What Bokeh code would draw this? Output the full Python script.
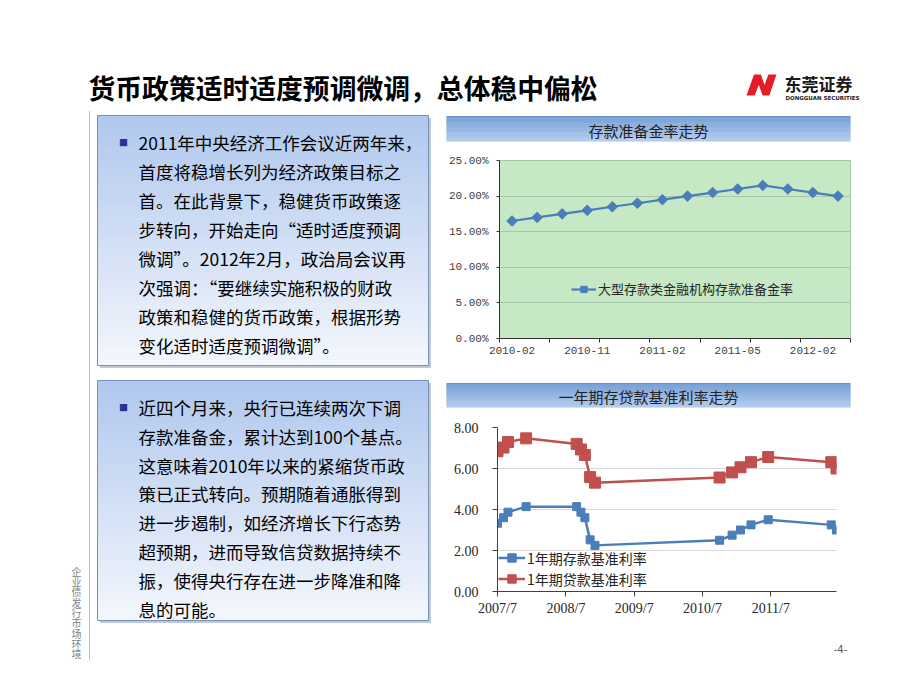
import numpy as np
import pandas as pd
from bokeh.plotting import figure
from bokeh.layouts import column, row
from bokeh.models import Range1d, FixedTicker, NumeralTickFormatter, Legend, LegendItem
from bokeh.core.properties import value
from bokeh.embed import file_html
from bokeh.resources import INLINE

# ---------------- texts ----------------
SLIDE_TITLE = "货币政策适时适度预调微调，总体稳中偏松"
LOGO_CN = "东莞证券"
LOGO_EN = "DONGGUAN SECURITIES"
SIDE_TEXT = "企业债发行市场环境"
PAGE_NO = "-4-"
BULLET = "■"

BOX1_LINES = [
    "2011年中央经济工作会议近两年来，",
    "首度将稳增长列为经济政策目标之",
    "首。在此背景下，稳健货币政策逐",
    "步转向，开始走向“适时适度预调",
    "微调”。2012年2月，政治局会议再",
    "次强调：“要继续实施积极的财政",
    "政策和稳健的货币政策，根据形势",
    "变化适时适度预调微调”。",
]
BOX2_LINES = [
    "近四个月来，央行已连续两次下调",
    "存款准备金，累计达到100个基点。",
    "这意味着2010年以来的紧缩货币政",
    "策已正式转向。预期随着通胀得到",
    "进一步遏制，如经济增长下行态势",
    "超预期，进而导致信贷数据持续不",
    "振，使得央行存在进一步降准和降",
    "息的可能。",
]

# ---------------- chart 1 data ----------------
RRR_TITLE = "存款准备金率走势"
RRR_SERIES = "大型存款类金融机构存款准备金率"
rrr_dates = ["2010-02", "2010-05", "2010-11", "2010-11", "2010-12", "2011-01", "2011-02",
             "2011-03", "2011-04", "2011-05", "2011-06", "2011-12", "2012-02", "2012-05"]
rrr_values = [0.165, 0.170, 0.175, 0.180, 0.185, 0.190, 0.195,
              0.200, 0.205, 0.210, 0.215, 0.210, 0.205, 0.200]
rrr_label_every = 3
rrr_tick_every = 2
rrr_yticks = [0.0, 0.05, 0.10, 0.15, 0.20, 0.25]

# ---------------- chart 2 data ----------------
RATE_TITLE = "一年期存贷款基准利率走势"
DEPOSIT_NAME = "1年期存款基准利率"
LOAN_NAME = "1年期贷款基准利率"
rate_dates = ["2007-07-21", "2007-08-22", "2007-09-15", "2007-12-21", "2008-09-16",
              "2008-10-09", "2008-10-30", "2008-11-27", "2008-12-23", "2010-10-20",
              "2010-12-26", "2011-02-09", "2011-04-06", "2011-07-07", "2012-06-08",
              "2012-07-06"]
deposit_rates = [3.33, 3.60, 3.87, 4.14, 4.14, 3.87, 3.60, 2.52, 2.25, 2.50,
                 2.75, 3.00, 3.25, 3.50, 3.25, 3.00]
loan_rates = [6.84, 7.02, 7.29, 7.47, 7.20, 6.93, 6.66, 5.58, 5.31, 5.56,
              5.81, 6.06, 6.31, 6.56, 6.31, 6.00]
rate_tick_dates = ["2007-07-21", "2008-07-21", "2009-07-21", "2010-07-21", "2011-07-21"]
rate_yticks = [0, 2, 4, 6, 8]

CJK = "Noto Sans CJK SC"
BLUE = "#4a7ebb"
RED = "#c0504d"


def deco(w, h, x0, y0):
    p = figure(width=w, height=h, x_range=Range1d(x0, x0 + w), y_range=Range1d(y0 + h, y0),
               x_axis_type=None, y_axis_type=None, toolbar_location=None, tools="",
               output_backend="svg", min_border=0, outline_line_color=None, frame_align=False)
    p.background_fill_color = "white"
    p.border_fill_color = "white"
    return p


def hex2rgb(h):
    return np.array([int(h[i:i + 2], 16) for i in (1, 3, 5)], dtype=float)


def grad(p, l, r, t, b, c_top, c_bot, n=40):
    a, z = hex2rgb(c_top), hex2rgb(c_bot)
    step = (b - t) / n
    tops = [t + k * step for k in range(n)]
    bots = [t + (k + 1) * step + (0.6 if k < n - 1 else 0) for k in range(n)]
    cols = ["#%02x%02x%02x" % tuple(int(round(v)) for v in a + (z - a) * k / (n - 1)) for k in range(n)]
    p.quad(left=l, right=r, top=tops, bottom=bots, fill_color=cols, line_color=None)


# ---------------- header (page x 0..912, y 0..110) ----------------
hdr = deco(912, 110, 0, 0)
hdr.text(x=[88], y=[87], text=[SLIDE_TITLE], text_font=value(CJK), text_font_size="26.8px",
         text_font_style="bold", text_color="#000000", text_baseline="middle", text_align="left")
nu = [(0.00, 1.00), (0.25, 0.00), (0.48, 0.00), (0.60, 0.50), (0.73, 0.00), (1.00, 0.00),
      (0.76, 1.00), (0.54, 1.00), (0.41, 0.50), (0.27, 1.00)]
lx0, lx1, ly0, ly1 = 746, 776, 74, 95
hdr.patch(x=[lx0 + u * (lx1 - lx0) for u, v in nu], y=[ly0 + v * (ly1 - ly0) for u, v in nu],
          fill_color="#e31e24", line_color=None)
hdr.text(x=[784], y=[83], text=[LOGO_CN], text_font=value(CJK), text_font_size="17px",
         text_font_style="bold", text_color="#1a1a1a", text_baseline="middle", text_align="left")
hdr.text(x=[785], y=[97], text=[LOGO_EN], text_font=value("DejaVu Sans"), text_font_size="5.5px",
         text_font_style="bold", text_color="#222222", text_baseline="middle", text_align="left")

# ---------------- left column (page x 0..445, y 110..684) ----------------
left = deco(445, 574, 0, 110)
left.segment(x0=[89], y0=[110], x1=[89], y1=[660], line_color="#b9c3d3", line_width=1)
left.text(x=[76], y=[563], text=["\n".join(SIDE_TEXT)], text_font=value(CJK), text_font_size="10px",
          text_color="#7f7f7f", text_baseline="top", text_align="center", text_line_height=0.69)


def text_box(p, l, r, t, b, lines, y_first, dy):
    p.quad(left=[l + 2.5], right=[r + 2.5], top=[t + 2.5], bottom=[b + 2.5], fill_color="#8a93a3",
           fill_alpha=0.5, line_color=None)
    grad(p, l, r, t, b, "#b0c8ee", "#f3f6fc")
    p.quad(left=[l], right=[r], top=[t], bottom=[b], fill_color=None, line_color="#7390c0", line_width=1)
    p.text(x=[123], y=[y_first], text=[BULLET], text_font=value(CJK), text_font_size="9px",
           text_color="#2e3192", text_baseline="middle", text_align="center")
    p.text(x=[138] * len(lines), y=[y_first + k * dy for k in range(len(lines))], text=lines,
           text_font=value(CJK), text_font_size="17.5px", text_color="#000000",
           text_baseline="middle", text_align="left")


text_box(left, 97, 428, 115, 365, BOX1_LINES, 142, 29)
text_box(left, 97, 428, 380, 620, BOX2_LINES, 407, 28.8)


# ---------------- banners ----------------
def banner(title, y0, t, b):
    p = deco(467, 40, 445, y0)
    grad(p, 446, 850, t, b, "#76a0d6", "#b5cdee", n=30)
    p.segment(x0=[446], y0=[t], x1=[850], y1=[t], line_color="#6a92c8", line_width=1)
    p.text(x=[648], y=[(t + b) / 2 + 1], text=[title], text_font=value(CJK), text_font_size="15px",
           text_color="#222222", text_baseline="middle", text_align="center")
    return p


b1 = banner(RRR_TITLE, 110, 116, 141)
b2 = banner(RATE_TITLE, 370, 383, 407)

# ---------------- chart 1 (page y 150..370) ----------------
xi = list(range(len(rrr_dates)))
c1 = figure(width=467, height=220, x_range=Range1d(-0.5, len(rrr_dates) - 0.5),
            y_range=Range1d(rrr_yticks[0], rrr_yticks[-1]), toolbar_location=None, tools="",
            output_backend="svg", min_border_left=54, min_border_right=62,
            min_border_top=10, min_border_bottom=32, frame_align=False)
c1.background_fill_color = "#c6e8c4"
c1.border_fill_color = "white"
c1.outline_line_color = "#a9c7a9"
c1.xgrid.visible = False
c1.ygrid.grid_line_color = "#a9c7aa"
c1.ygrid.ticker = FixedTicker(ticks=rrr_yticks)

lab_idx = xi[::rrr_label_every]
c1.xaxis.ticker = FixedTicker(ticks=lab_idx,
                              minor_ticks=[i - 0.5 for i in range(0, len(rrr_dates) + 1, rrr_tick_every)])
c1.xaxis.major_label_overrides = {i: rrr_dates[i] for i in lab_idx}
c1.xaxis.major_tick_line_color = None
c1.xaxis.major_tick_out = 0
c1.xaxis.minor_tick_out = 4
c1.xaxis.minor_tick_in = 0
c1.xaxis.minor_tick_line_color = "#303030"
c1.xaxis.major_label_standoff = 4
c1.yaxis.ticker = FixedTicker(ticks=rrr_yticks)
c1.yaxis.formatter = NumeralTickFormatter(format="0.00%")
c1.yaxis.major_tick_out = 3
c1.yaxis.major_tick_in = 0
c1.yaxis.major_label_standoff = 8
for ax in (c1.xaxis, c1.yaxis):
    ax.axis_line_color = "#303030"
    ax.major_label_text_font = "Liberation Mono"
    ax.major_label_text_font_size = "11px"
    ax.major_label_text_color = "#404040"
c1.yaxis.major_tick_line_color = "#303030"

l1 = c1.line(xi, rrr_values, line_color=BLUE, line_width=2.2)
m1 = c1.scatter(xi, rrr_values, marker="square", angle=np.pi / 4, size=7.5,
                fill_color=BLUE, line_color=BLUE)
leg1 = Legend(items=[LegendItem(label=RRR_SERIES, renderers=[l1, m1])], location=(72, 40),
              padding=0, margin=0, spacing=0, glyph_width=25, glyph_height=16, label_height=16,
              label_standoff=2, background_fill_alpha=0, border_line_color=None,
              label_text_font=CJK, label_text_font_size="13px", label_text_color="#262626")
c1.add_layout(leg1)

# ---------------- chart 2 (page y 410..632) ----------------
rd = pd.to_datetime(rate_dates)
tick_ts = pd.to_datetime(rate_tick_dates)
tick_ms = [int(t.value // 10 ** 6) for t in tick_ts]
c2 = figure(width=467, height=222, x_axis_type="datetime",
            x_range=Range1d(rd[0], rd[-1]), y_range=Range1d(rate_yticks[0], rate_yticks[-1]),
            toolbar_location=None, tools="", output_backend="svg",
            min_border_left=52, min_border_right=76, min_border_top=17, min_border_bottom=41,
            frame_align=False)
c2.background_fill_color = "white"
c2.border_fill_color = "white"
c2.outline_line_color = None
c2.xgrid.visible = False
c2.ygrid.grid_line_color = "#d9d9d9"
c2.ygrid.ticker = FixedTicker(ticks=rate_yticks)
c2.xaxis.ticker = FixedTicker(ticks=tick_ms)
c2.xaxis.major_label_overrides = {ms: f"{t.year}/{t.month}" for ms, t in zip(tick_ms, tick_ts)}
c2.yaxis.ticker = FixedTicker(ticks=rate_yticks)
c2.yaxis.formatter = NumeralTickFormatter(format="0.00")
for ax in (c2.xaxis, c2.yaxis):
    ax.axis_line_color = "#404040"
    ax.major_tick_line_color = "#404040"
    ax.major_tick_out = 5
    ax.major_tick_in = 0
    ax.minor_tick_line_color = None
    ax.major_label_text_font = "Liberation Serif"
    ax.major_label_text_font_size = "14px"
    ax.major_label_text_color = "#262626"
c2.xaxis.major_label_standoff = 4
c2.yaxis.major_label_standoff = 14

ld = c2.line(rd, deposit_rates, line_color=BLUE, line_width=2.5)
md = c2.scatter(rd, deposit_rates, marker="square", size=8, fill_color=BLUE, line_color=BLUE)
ll = c2.line(rd, loan_rates, line_color=RED, line_width=2.5)
ml = c2.scatter(rd, loan_rates, marker="square", size=11, fill_color=RED, line_color=RED)
leg2 = Legend(items=[LegendItem(label=DEPOSIT_NAME, renderers=[ld, md]),
                     LegendItem(label=LOAN_NAME, renderers=[ll, ml])],
              location=(1, 2), padding=0, margin=0, spacing=0, glyph_width=27, glyph_height=21,
              label_height=21, label_standoff=2, background_fill_alpha=0, border_line_color=None,
              label_text_font=CJK, label_text_font_size="14px", label_text_color="#262626")
c2.add_layout(leg2)

# ---------------- footer (page y 632..684) ----------------
foot = deco(467, 52, 445, 632)
foot.text(x=[840], y=[648], text=[PAGE_NO], text_font=value("DejaVu Sans"), text_font_size="10px",
          text_color="#595959", text_baseline="middle", text_align="center")

layout = column(hdr, row(left, column(b1, c1, b2, c2, foot)))
open("out.html", "w").write(file_html(layout, INLINE))
